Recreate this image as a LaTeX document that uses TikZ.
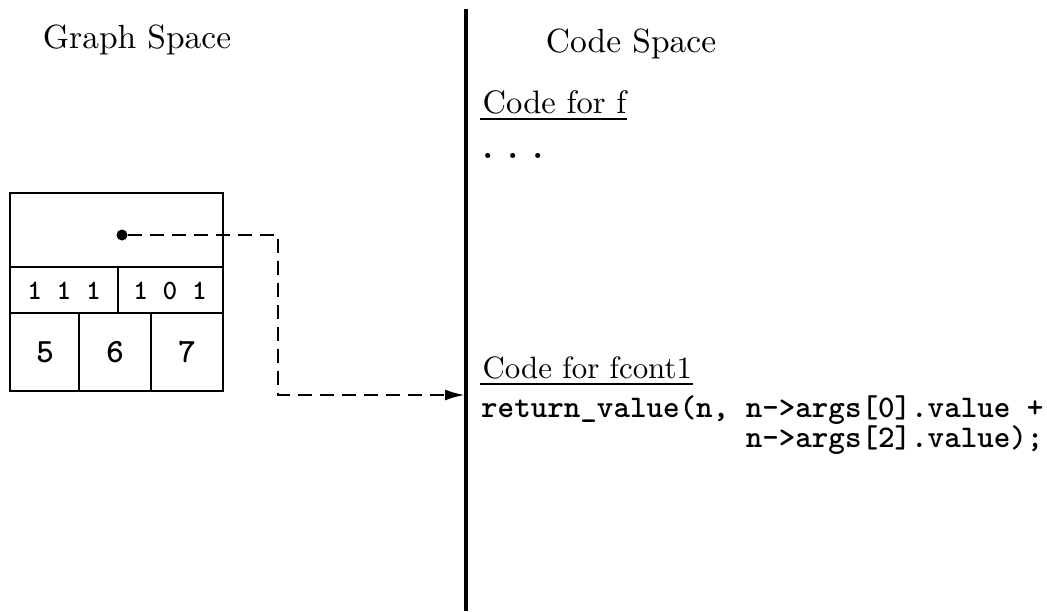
\documentclass[tikz,border=0pt]{standalone}
\usetikzlibrary{arrows.meta}
\begin{document}
\begin{tikzpicture}[x=1pt,y=-1pt,
  frame/.style={line width=2.8pt},
  heading/.style={inner sep=0pt,scale=3.35,font=\fontsize{10}{12}\selectfont},
  label/.style={inner sep=0pt,anchor=base west,scale=3.25,font=\fontsize{10}{12}\selectfont},
  bits/.style={inner sep=0pt,font=\ttfamily\bfseries\fontsize{28}{30}\selectfont},
  slot/.style={inner sep=0pt,font=\ttfamily\bfseries\fontsize{34}{36}\selectfont},
  code/.style={inner sep=0pt,anchor=north west,align=left,
    font=\ttfamily\bfseries\fontsize{31.5}{30}\selectfont},
  link/.style={line width=2.6pt,dash pattern=on 14pt off 8pt},
  underline/.style={line width=2.6pt}]
\useasboundingbox (0,0) rectangle (1047,611);

% divider between the two spaces
\coordinate (divtop) at (466,9);
\coordinate (divbot) at (466,611);
\draw[line width=3.2pt] (divtop) -- (divbot);

% headings
\node[heading] (gs) at (137,40) {Graph Space};
\node[heading] (cs) at (631,44) {Code Space};

% graph node record
\draw[frame] (10,193) rectangle (223,391);
\draw[frame] (10,267) -- (223,267);
\draw[frame] (10,313) -- (223,313);
\draw[frame] (118,267) -- (118,313);
\draw[frame] (79,313) -- (79,391);
\draw[frame] (151,313) -- (151,391);
\node[bits] (b1) at (64,291) {1 1 1};
\node[bits] (b2) at (170,291) {1 0 1};
\node[slot] (s5) at (45,352) {5};
\node[slot] (s6) at (115,352) {6};
\node[slot] (s7) at (187,352) {7};

% code pointer
\node[circle,fill,inner sep=0pt,minimum size=11pt] (ptr) at (122,235) {};
\coordinate (bend) at (278,235);
\coordinate (entry) at (465,395);
\draw[link,-{Latex[length=20pt,width=11pt]}] (ptr) -- (bend) |- (entry);

% code space
\node[label] (cf) at (482,113) {Code for f};
\draw[underline] ([shift={(-2pt,-6pt)}]cf.base west) -- ([yshift=-6pt]cf.base east);
\node[label] (dots) at (482,158) {\textbf{.}\hspace{4.5pt}\textbf{.}\hspace{4.5pt}\textbf{.}};
\node[label,scale=0.95] (cfc) at (482,378) {Code for fcont1};
\draw[underline] ([shift={(-2pt,-6pt)}]cfc.base west) -- ([yshift=-6pt]cfc.base east);
\node[code] (body) at (481,395) {return\_value(n, n->args[0].value +\\
\hphantom{return\_value(n, }n->args[2].value);};
\end{tikzpicture}
\end{document}
